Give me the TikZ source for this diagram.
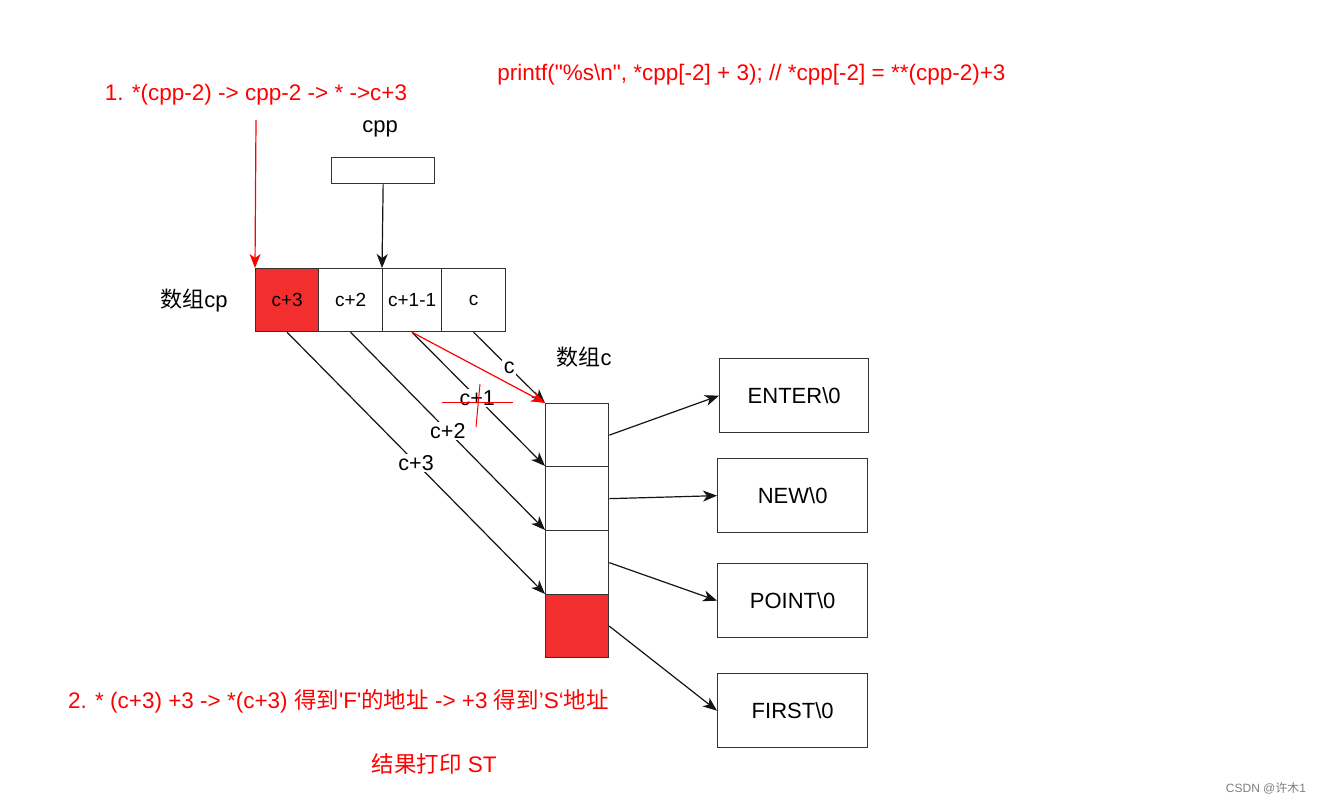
\documentclass[tikz,border=0pt]{standalone}
\usepackage{fontspec}
\setmainfont{Liberation Sans}
\newfontfamily\cjk{Noto Sans CJK SC}
\usetikzlibrary{arrows.meta}
\definecolor{myred}{RGB}{255,0,0}
\definecolor{cellred}{RGB}{243,46,46}
\definecolor{edgec}{RGB}{20,20,20}
\definecolor{boxc}{RGB}{50,50,50}
\begin{document}
\begin{tikzpicture}[x=1pt,y=1pt,
  box/.style={draw=boxc, line width=1.3pt, inner sep=0pt, anchor=north west},
  big/.style={font=\fontsize{22}{26}\selectfont},
  mid/.style={font=\fontsize{19}{23}\selectfont},
  redtxt/.style={text=myred, font=\fontsize{22.5}{27}\selectfont},
  conn/.style={draw=edgec, line width=1.2pt, -{Stealth[length=14pt,width=11pt,inset=4pt]}},
  redconn/.style={draw=myred, line width=1.2pt, -{Stealth[length=14pt,width=11pt,inset=4pt]}},
  elab/.style={fill=white, inner sep=1.5pt, font=\fontsize{21.5}{25}\selectfont}]
\useasboundingbox (0,0) rectangle (1317,-804);
\fill[white] (0,0) rectangle (1317,-804);

% texts
\node[redtxt] (t1) at (256,-95) {1. *(cpp-2) -> cpp-2 -> * ->c+3};
\node[redtxt] (tp) at (751.5,-75) {printf(\textquotedbl\%s\textbackslash n\textquotedbl, *cpp[-2] + 3); // *cpp[-2] = **(cpp-2)+3};
\node[redtxt] (t2) at (338.5,-701) {2. * (c+3) +3 -> *(c+3) {\cjk 得到}\textquotesingle F\textquotesingle{\cjk 的地址} -> +3 {\cjk 得到}’S‘{\cjk 地址}};
\node[redtxt] (t3) at (434,-764) {{\cjk 结果打印} ST};
\node[big] (lcpp) at (380,-129) {cpp};
\node[big] (lcp) at (194,-301) {{\cjk 数组}cp};
\node[big] (lc) at (584,-357) {{\cjk 数组}c};
\node[text=gray, font=\fontsize{12}{14}\selectfont] (wm) at (1266,-788) {CSDN @{\cjk 许木}1};

% cpp box
\node[box, minimum width=103pt, minimum height=26pt] (cpp) at (331,-157) {};

% cp array
\node[box, mid, fill=cellred, minimum width=63pt, minimum height=63pt] (cp0) at (255,-268) {c+3};
\node[box, mid, minimum width=64pt, minimum height=63pt] (cp1) at (318,-268) {c+2};
\node[box, mid, minimum width=59pt, minimum height=63pt] (cp2) at (382,-268) {c+1-1};
\node[box, mid, minimum width=64pt, minimum height=63pt] (cp3) at (441,-268) {c};

% c array
\node[box, minimum width=63pt, minimum height=63pt] (c0) at (545,-403) {};
\node[box, minimum width=63pt, minimum height=64pt] (c1) at (545,-466) {};
\node[box, minimum width=63pt, minimum height=64pt] (c2) at (545,-530) {};
\node[box, fill=cellred, minimum width=63pt, minimum height=63pt] (c3) at (545,-594) {};

% strings
\node[box, big, minimum width=149pt, minimum height=74pt] (s0) at (719,-358) {ENTER\textbackslash 0};
\node[box, big, minimum width=150pt, minimum height=74pt] (s1) at (717,-458) {NEW\textbackslash 0};
\node[box, big, minimum width=150pt, minimum height=74pt] (s2) at (717,-563) {POINT\textbackslash 0};
\node[box, big, minimum width=150pt, minimum height=74pt] (s3) at (717,-673) {FIRST\textbackslash 0};

% connectors
\draw[conn] (cpp.south) -- (cp2.north west);
\draw[conn] (c0.east) -- (s0.west);
\draw[conn] (c1.east) -- (s1.west);
\draw[conn] (c2.east) -- (s2.west);
\draw[conn] (c3.east) -- (s3.west);

\draw[conn] (cp3.south) -- node[elab, pos=0.5] (e0) {c} (c0.north west);
\draw[conn] (cp2.south) -- node[elab, pos=0.49] (e1) {c+1} (c1.north west);
\draw[conn] (cp1.south) -- node[elab, pos=0.5] (e2) {c+2} (c2.north west);
\draw[conn] (cp0.south) -- node[elab, pos=0.5] (e3) {c+3} (c3.north west);

% strike through c+1
\coordinate (k1) at (442,-402);
\coordinate (k2) at (513,-402);
\coordinate (k3) at (480,-384);
\coordinate (k4) at (476,-427);
\draw[myred, line width=1pt] (k1) -- (k2);
\draw[myred, line width=1pt] (k3) -- (k4);

% red arrows
\draw[redconn] (cp2.south) -- (c0.north west);
\coordinate (r0) at (256,-120);
\draw[redconn] (r0) -- (cp0.north west);
\end{tikzpicture}
\end{document}
